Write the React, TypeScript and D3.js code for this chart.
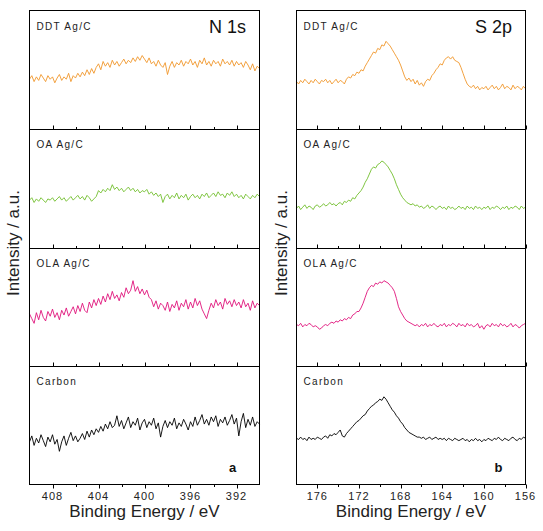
import React from "react";
import * as d3 from "d3";

// ---- Data ----
const n1sStart = 410;
const n1sEnd = 390;
const s2pStart = 178;
const s2pEnd = 156;
const step = 0.2;

const n1sEnergy = d3.range(0, 101).map((i) => +(n1sStart - i * step).toFixed(2));
const s2pEnergy = d3.range(0, 111).map((i) => +(s2pStart - i * step).toFixed(2));

const sampleNames = ["DDT Ag/C", "OA Ag/C", "OLA Ag/C", "Carbon"];
const sampleColors = ["#F0962A", "#72BE2C", "#E0127A", "#000000"];

const n1sDDT = [
  42, 45, 40, 44, 41, 46, 43, 40, 45, 42,
  44, 39, 43, 46, 41, 44, 42, 47, 40, 45,
  43, 47, 44, 48, 45, 50, 46, 51, 47, 52,
  55, 50, 57, 53, 56, 52, 58, 54, 57, 53,
  56, 59, 55, 58, 56, 60, 57, 61, 58, 62,
  59, 56, 60, 55, 57, 53, 58, 54, 52, 56,
  46, 53, 57, 52, 56, 54, 58, 53, 57, 55,
  59, 54, 57, 52, 58, 55, 60, 54, 57, 53,
  58, 55, 57, 53, 59, 55, 57, 54, 58, 53,
  57, 54, 56, 52, 57, 54, 50, 55, 49, 53,
  51,
];
const n1sOA = [
  40, 42, 38, 41, 39, 42, 40, 38, 41, 40,
  42, 39, 41, 43, 40, 42, 39, 41, 43, 40,
  42, 44, 41, 43, 40, 44, 42, 39, 41, 43,
  48, 46, 49, 47, 50, 48, 53, 49, 51, 48,
  50, 47, 49, 51, 48, 50, 47, 49, 46, 48,
  47, 49, 45, 47, 44, 46, 43, 45, 38, 43,
  45, 41, 44, 42, 46, 41, 44, 42, 45, 40,
  43, 45, 42, 44, 41, 45, 43, 46, 42, 44,
  46, 43, 47, 44, 45, 42, 46, 44, 47, 43,
  45, 42, 44, 41, 45, 43, 41, 44, 42, 45,
  43,
];
const n1sOLA = [
  44, 40, 36, 45, 39, 47, 41, 38, 46, 42,
  48, 41, 45, 39, 47, 43, 49, 42, 46, 50,
  44, 51, 46, 53, 47, 45, 54, 49, 56, 51,
  57, 52, 59, 54, 61, 56, 63, 57, 60, 55,
  62, 58, 66, 61, 64, 72, 63, 67, 61, 65,
  60, 64, 58, 56, 50, 55, 48, 53, 51, 47,
  54, 46, 52, 49, 55, 47, 53, 50, 56, 48,
  54, 49, 57, 51, 55, 48, 44, 40, 47, 53,
  49, 56, 51, 54, 48, 57, 52, 55, 50, 56,
  51, 54, 49, 56, 50, 53, 47, 55, 49, 53,
  51,
];
const n1sCarbon = [
  36, 41, 33, 39, 35, 42, 37, 32, 40, 36,
  42, 34, 38, 28, 36, 41, 33, 39, 44, 37,
  41, 36, 39, 43, 38, 45, 40, 46, 42, 47,
  44, 49, 45, 51, 47, 53, 48, 50, 58, 49,
  54, 47, 52, 57, 48, 53, 50, 56, 46, 52,
  55, 48, 53, 50, 56, 47, 52, 40, 49, 54,
  48, 53, 50, 56, 47, 52, 49, 55, 51, 46,
  53, 49, 57, 50, 54, 59, 51, 55, 50, 57,
  53, 58, 49, 55, 52, 57, 50, 54, 59, 51,
  56, 41, 53, 60, 48, 55, 50, 57, 49, 53,
  51,
];

const s2pDDT = [
  40, 38, 41, 39, 42, 40, 38, 41, 39, 42,
  40, 38, 41, 40, 42, 39, 41, 38, 40, 42,
  39, 41, 40, 38, 42, 44, 43, 46, 45, 48,
  47, 50, 49, 53, 56, 59, 62, 65, 64, 68,
  67, 71, 70, 74, 72, 70, 67, 64, 61, 58,
  54, 49, 44, 41, 43, 40, 42, 38, 41, 37,
  39, 36, 40, 42, 41, 45, 47, 50, 52, 55,
  54, 58, 60, 61, 59, 61, 58, 57, 56, 52,
  47, 42, 38, 36, 35, 37, 34, 36, 33, 35,
  34, 36, 33, 35, 37, 34, 36, 33, 35, 38,
  34, 36, 35, 33, 37, 34, 36, 35, 33, 36, 34,
];
const s2pOA = [
  33, 35, 32, 34, 36, 33, 35, 34, 32, 35,
  36, 34, 35, 37, 35, 36, 38, 36, 37, 35,
  37, 38, 36, 39, 38, 40, 39, 42, 41, 44,
  46, 48, 51, 55, 58, 62, 66, 68, 67, 70,
  71, 73, 72, 70, 68, 65, 62, 58, 53, 49,
  45, 42, 40, 38, 37, 36, 37, 35, 36, 34,
  35, 33, 34, 36, 33, 35, 34, 32, 34, 35,
  33, 34, 32, 35, 33, 34, 32, 33, 35, 33,
  34, 32, 35, 33, 34, 32, 35, 33, 34, 32,
  34, 33, 35, 32, 34, 33, 35, 34, 32, 34,
  33, 35, 32, 34, 33, 35, 34, 32, 35, 33, 34,
];
const s2pOLA = [
  35, 34, 36, 33, 35, 34, 36, 35, 33, 34,
  33, 31, 32, 34, 35, 34, 36, 37, 36, 38,
  37, 39, 38, 40, 39, 41, 40, 43, 44, 46,
  46, 49, 53, 58, 63, 66, 68, 67, 70, 69,
  71, 70, 72, 71, 70, 68, 66, 63, 57, 50,
  46, 43, 40, 38, 37, 36, 35, 34, 35, 33,
  35, 34, 36, 33, 35, 34, 36, 34, 33, 35,
  34, 36, 33, 35, 34, 36, 35, 33, 36, 34,
  35, 33, 36, 34, 35, 33, 34, 36, 32, 34,
  31, 34, 35, 33, 36, 34, 35, 33, 36, 34,
  35, 33, 34, 36, 33, 35, 34, 32, 34, 35, 36,
];
const s2pCarbon = [
  39, 38, 40, 38, 39, 37, 40, 38, 39, 38,
  40, 39, 38, 40, 41, 39, 42, 41, 43, 42,
  44, 46, 41, 40, 43, 45, 47, 49, 51, 53,
  54, 56, 58, 59, 62, 64, 66, 67, 69, 70,
  72, 71, 74, 72, 69, 66, 63, 61, 58, 56,
  53, 51, 48, 46, 44, 43, 42, 41, 40, 40,
  39, 40, 38, 39, 40, 38, 39, 40, 38, 39,
  38, 39, 37, 39, 38, 37, 39, 38, 37, 38,
  39, 37, 38, 36, 38, 37, 39, 37, 38, 36,
  38, 37, 39, 38, 37, 39, 38, 40, 38, 37,
  39, 38, 37, 39, 40, 38, 37, 39, 38, 40, 39,
];

const n1sSeries = [n1sDDT, n1sOA, n1sOLA, n1sCarbon];
const s2pSeries = [s2pDDT, s2pOA, s2pOLA, s2pCarbon];

const n1sMajor = [408, 404, 400, 396, 392];
const n1sMinor = [406, 402, 398, 394];
const s2pMajor = [176, 172, 168, 164, 160, 156];
const s2pMinor = [174, 170, 166, 162, 158];

// ---- Layout ----
const W = 543;
const H = 531;
const top = 10.5;
const bottom = 484.5;
const nRows = 4;
const rowH = (bottom - top) / nRows;
const font = "Arial, 'Liberation Sans', Helvetica, sans-serif";

type PanelProps = {
  x0: number;
  x1: number;
  domain: [number, number];
  energy: number[];
  series: number[][];
  major: number[];
  minor: number[];
  title: string;
  letter: string;
  titleX: number;
  yLabelX: number;
};

function Panel(p: PanelProps) {
  const x = d3.scaleLinear().domain(p.domain).range([p.x0, p.x1]);
  const rowScales = d3.range(nRows).map((r) =>
    d3.scaleLinear().domain([0, 100]).range([top + (r + 1) * rowH, top + r * rowH])
  );
  const cx = (p.x0 + p.x1) / 2;
  return (
    <g>
      {p.series.map((vals, r) => {
        const y = rowScales[r];
        const line = d3
          .line<number>()
          .x((_, i) => x(p.energy[i]))
          .y((v) => y(v));
        return (
          <path
            key={"s" + r}
            d={line(vals) || ""}
            fill="none"
            stroke={sampleColors[r]}
            strokeWidth={0.9}
            strokeLinejoin="round"
          />
        );
      })}
      {/* frame */}
      <rect
        x={p.x0}
        y={top}
        width={p.x1 - p.x0}
        height={bottom - top}
        fill="none"
        stroke="#000"
        strokeWidth={1}
      />
      {d3.range(1, nRows).map((r) => {
        const yy = Math.round(top + r * rowH) + 0.5;
        return <line key={"d" + r} x1={p.x0} x2={p.x1} y1={yy} y2={yy} stroke="#000" strokeWidth={1} />;
      })}
      {/* ticks: inward for inner rows, outward at bottom */}
      {d3.range(1, nRows).map((r) => {
        const yy = Math.round(top + r * rowH) + 0.5;
        return (
          <g key={"t" + r}>
            {p.major.map((t) => (
              <line key={"M" + t} x1={Math.round(x(t)) + 0.5} x2={Math.round(x(t)) + 0.5} y1={yy} y2={yy - 4} stroke="#000" />
            ))}
            {p.minor.map((t) => (
              <line key={"m" + t} x1={Math.round(x(t)) + 0.5} x2={Math.round(x(t)) + 0.5} y1={yy} y2={yy - 2.5} stroke="#000" />
            ))}
          </g>
        );
      })}
      {p.major.map((t) => (
        <line key={"bM" + t} x1={Math.round(x(t)) + 0.5} x2={Math.round(x(t)) + 0.5} y1={bottom} y2={bottom + 4} stroke="#000" />
      ))}
      {p.minor.map((t) => (
        <line key={"bm" + t} x1={Math.round(x(t)) + 0.5} x2={Math.round(x(t)) + 0.5} y1={bottom} y2={bottom + 2.5} stroke="#000" />
      ))}
      {p.major.map((t) => (
        <text
          key={"l" + t}
          x={x(t)}
          y={500}
          textAnchor="middle"
          fontFamily={font}
          fontSize={11}
          letterSpacing={1}
          fill="#222"
        >
          {t}
        </text>
      ))}
      {/* sample labels */}
      {sampleNames.map((n, r) => (
        <text
          key={"n" + r}
          x={p.x0 + 7}
          y={top + r * rowH + 19}
          fontFamily={font}
          fontSize={10}
          letterSpacing={1.3}
          fill="#222"
        >
          {n}
        </text>
      ))}
      <text x={p.titleX} y={33} fontFamily={font} fontSize={18} fill="#111">
        {p.title}
      </text>
      <text
        x={p.x1 - 27}
        y={472}
        textAnchor="middle"
        fontFamily={font}
        fontSize={13}
        fontWeight="bold"
        fill="#111"
      >
        {p.letter}
      </text>
      <text x={cx} y={517} textAnchor="middle" fontFamily={font} fontSize={17} fill="#222">
        Binding Energy / eV
      </text>
      <text
        transform={`translate(${p.yLabelX},243) rotate(-90)`}
        textAnchor="middle"
        fontFamily={font}
        fontSize={17}
        fill="#222"
      >
        Intensity / a.u.
      </text>
    </g>
  );
}

export default function App() {
  return (
    <svg
      width={W}
      height={H}
      viewBox={`0 0 ${W} ${H}`}
      style={{ position: "absolute", left: 0, top: 0, background: "#fff" }}
    >
      <rect x={0} y={0} width={W} height={H} fill="#fff" />
      <Panel
        x0={29.5}
        x1={259.5}
        domain={[n1sStart, n1sEnd]}
        energy={n1sEnergy}
        series={n1sSeries}
        major={n1sMajor}
        minor={n1sMinor}
        title="N 1s"
        letter="a"
        titleX={209}
        yLabelX={19}
      />
      <Panel
        x0={296.5}
        x1={525.5}
        domain={[s2pStart, s2pEnd]}
        energy={s2pEnergy}
        series={s2pSeries}
        major={s2pMajor}
        minor={s2pMinor}
        title="S 2p"
        letter="b"
        titleX={475}
        yLabelX={287}
      />
    </svg>
  );
}
